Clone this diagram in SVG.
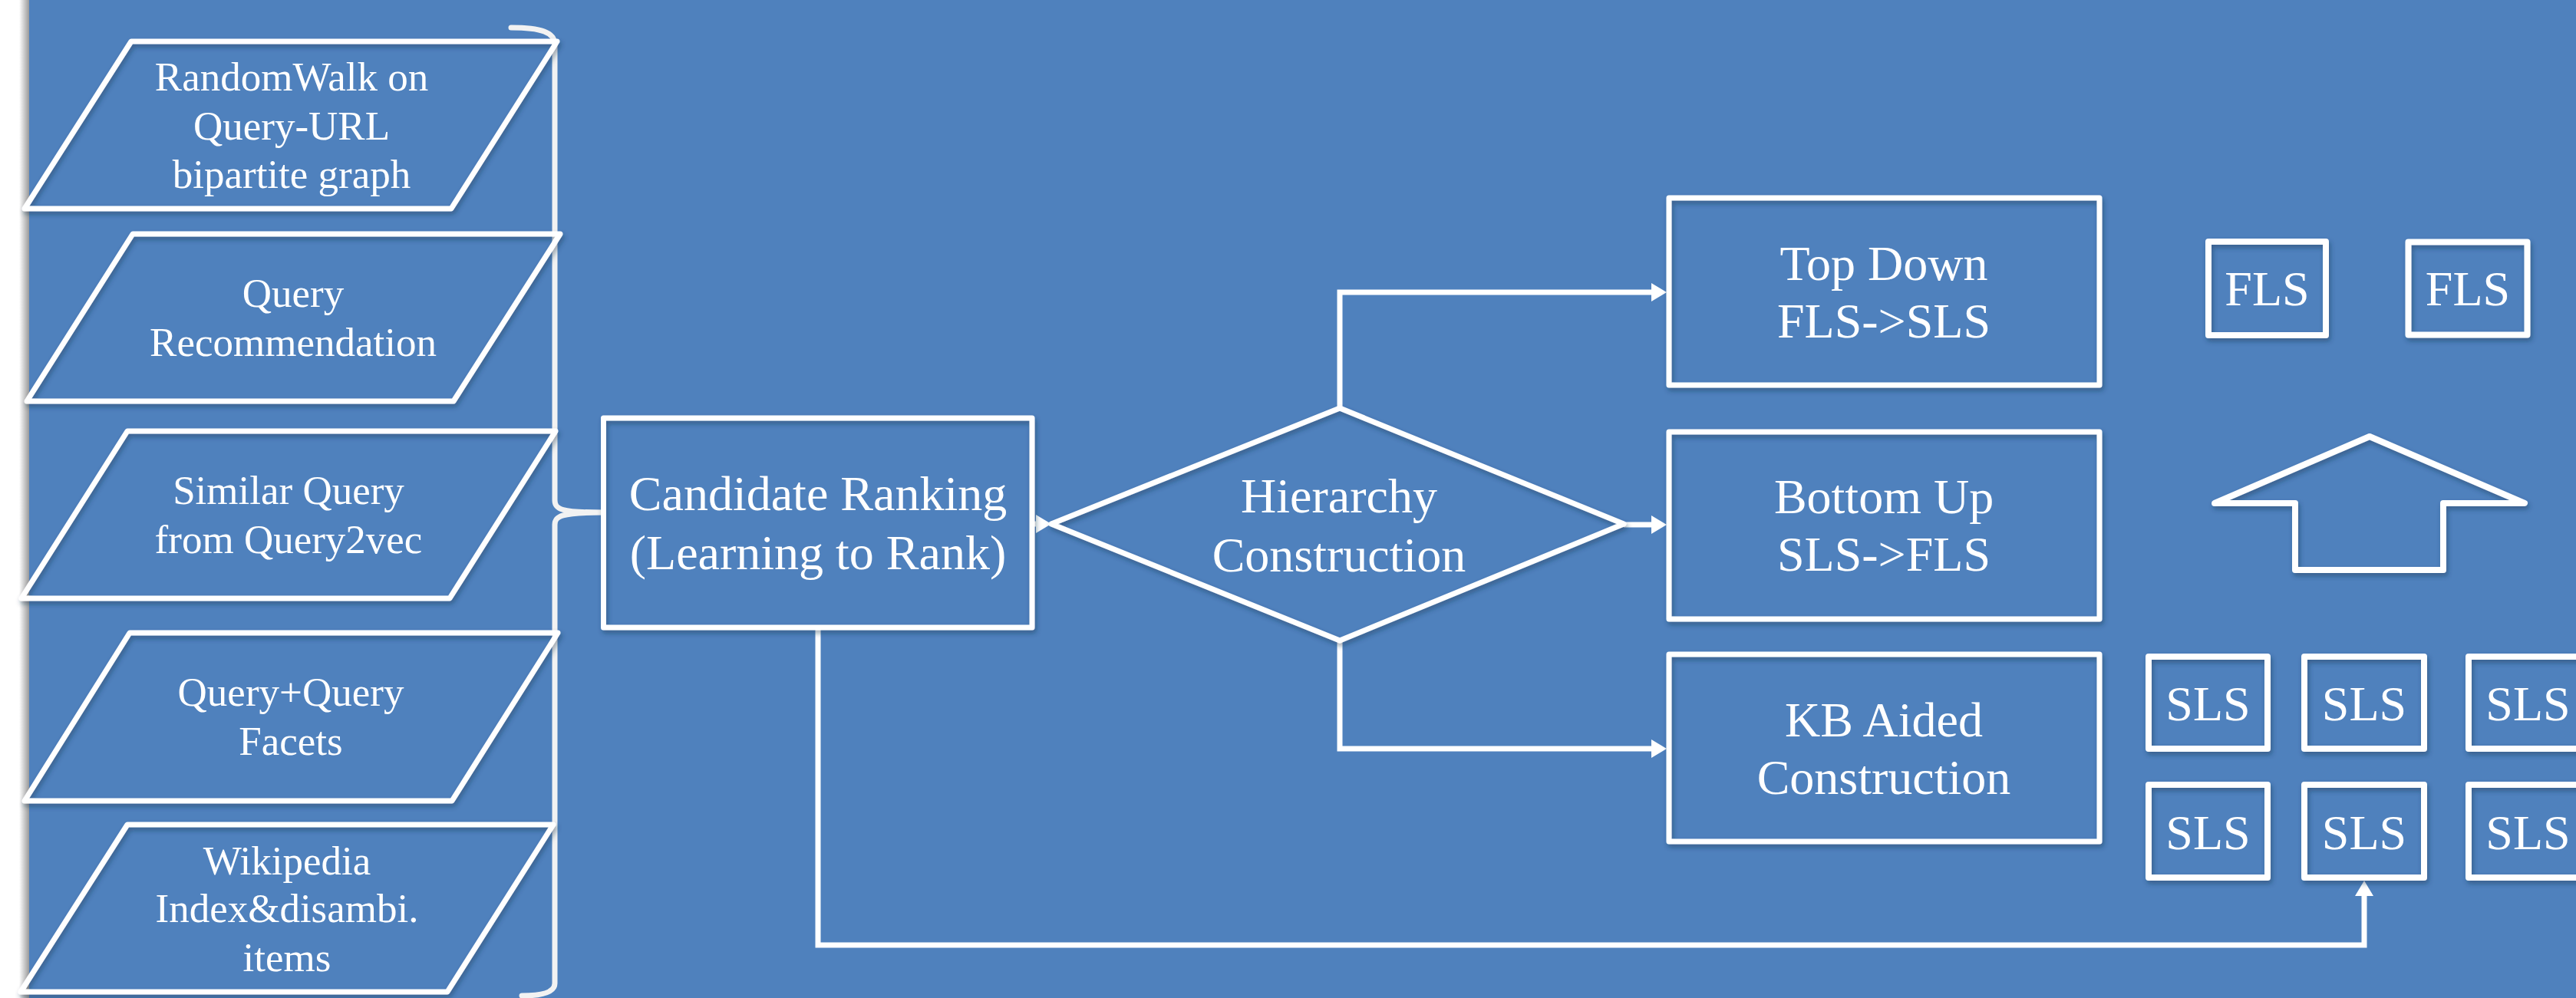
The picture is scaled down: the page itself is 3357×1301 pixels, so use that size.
<svg xmlns="http://www.w3.org/2000/svg" width="3357" height="1301" viewBox="0 0 3357 1301">
<style>
.bg{fill:#4F81BD}
.shape{fill:none;stroke:#ffffff;stroke-width:7;stroke-linejoin:round;filter:url(#sh)}
.small{fill:none;stroke:#ffffff;stroke-width:8;stroke-linejoin:round;filter:url(#sh)}
.t{font-family:"Liberation Serif","Times New Roman",serif;fill:#ffffff;text-anchor:middle}
.t53{font-size:53px}
.t64{font-size:64px}
.conn{fill:none;stroke:#ffffff;stroke-width:7;stroke-linejoin:miter}
.brace{fill:none;stroke:#f2f2f2;stroke-width:7;stroke-linecap:round}
</style>
<defs>
<filter id="sh" x="-10%" y="-10%" width="120%" height="130%">
<feDropShadow dx="2" dy="4" stdDeviation="3" flood-color="#1f3550" flood-opacity="0.45"/>
</filter>
<linearGradient id="edge" x1="0" y1="0" x2="1" y2="0">
<stop offset="0" stop-color="#ffffff"/>
<stop offset="1" stop-color="#9a9a9a"/>
</linearGradient>
<marker id="ah" markerUnits="userSpaceOnUse" markerWidth="20" markerHeight="24" refX="0" refY="12" orient="auto" viewBox="0 0 20 24">
<path d="M0,0 L20,12 L0,24 Z" fill="#ffffff"/>
</marker>
</defs>

<rect x="0" y="0" width="3357" height="1301" fill="#ffffff"/>
<rect x="25" y="0" width="13" height="1301" fill="url(#edge)"/>
<rect class="bg" x="38" y="0" width="3319" height="1301"/>

<g id="connectors">
<path class="brace" d="M666,36 C705,36 723,42 723,58 L723,652 C723,664 731,668 786,668 C731,668 723,673 723,684 L723,1282 C723,1294 705,1298 680,1298"/>
<path class="conn" d="M1746,532 L1746,381 L2152,381" marker-end="url(#ah)"/>
<path class="conn" d="M2116,684 L2152,684" marker-end="url(#ah)"/>
<path class="conn" d="M1746,835 L1746,976 L2152,976" marker-end="url(#ah)"/>
<path class="conn" d="M1345,683 L1350,683" marker-end="url(#ah)"/>
<path class="conn" d="M1066,818 L1066,1232 L3081,1232 L3081,1168" marker-end="url(#ah)"/>
</g>

<g id="src-randomwalk">
<polygon class="shape" points="171,54 726,54 588,272 32,272"/>
<text class="t t53" x="380" y="118">RandomWalk on</text>
<text class="t t53" x="380" y="182">Query-URL</text>
<text class="t t53" x="380" y="245">bipartite graph</text>
</g>
<g id="src-queryrec">
<polygon class="shape" points="173,305 730,305 591,523 35,523"/>
<text class="t t53" x="382" y="400">Query</text>
<text class="t t53" x="382" y="464">Recommendation</text>
</g>
<g id="src-query2vec">
<polygon class="shape" points="166,562 724,562 586,780 28,780"/>
<text class="t t53" x="376" y="657">Similar Query</text>
<text class="t t53" x="376" y="721">from Query2vec</text>
</g>
<g id="src-facets">
<polygon class="shape" points="169,825 727,825 589,1044 32,1044"/>
<text class="t t53" x="379" y="920">Query+Query</text>
<text class="t t53" x="379" y="984">Facets</text>
</g>
<g id="src-wikipedia">
<polygon class="shape" points="166,1075 721,1075 583,1293 27,1293"/>
<text class="t t53" x="374" y="1140">Wikipedia</text>
<text class="t t53" x="374" y="1202">Index&amp;disambi.</text>
<text class="t t53" x="374" y="1266">items</text>
</g>

<g id="candidate-ranking">
<rect class="shape" x="786.5" y="545" width="558.5" height="273"/>
<text class="t t64" x="1066" y="665">Candidate Ranking</text>
<text class="t t64" x="1066" y="742">(Learning to Rank)</text>
</g>

<g id="hierarchy">
<polygon class="shape" points="1746,532 2116,683 1746,835 1370,683"/>
<text class="t t64" x="1745" y="668">Hierarchy</text>
<text class="t t64" x="1745" y="745">Construction</text>
</g>

<g id="top-down">
<rect class="shape" x="2175" y="258" width="561" height="244"/>
<text class="t t64" x="2455" y="365">Top Down</text>
<text class="t t64" x="2455" y="440">FLS-&gt;SLS</text>
</g>
<g id="bottom-up">
<rect class="shape" x="2175" y="563" width="561" height="244"/>
<text class="t t64" x="2455" y="669">Bottom Up</text>
<text class="t t64" x="2455" y="744">SLS-&gt;FLS</text>
</g>
<g id="kb-aided">
<rect class="shape" x="2175" y="853" width="561" height="244"/>
<text class="t t64" x="2455" y="960">KB Aided</text>
<text class="t t64" x="2455" y="1035">Construction</text>
</g>

<g id="fls-1">
<rect class="small" x="2878" y="315" width="153" height="122"/>
<text class="t t64" x="2954.5" y="398">FLS</text>
</g>
<g id="fls-2">
<rect class="small" x="3138.5" y="315.5" width="155" height="121"/>
<text class="t t64" x="3216" y="398">FLS</text>
</g>

<g id="up-arrow">
<polygon class="small" points="3088,569 3290,656 3184,656 3184,743 2991,743 2991,656 2886,656"/>
</g>

<g id="sls-1">
<rect class="small" x="2800" y="856" width="155" height="120"/>
<text class="t t64" x="2877.5" y="939">SLS</text>
</g>
<g id="sls-2">
<rect class="small" x="3003" y="856" width="156" height="120"/>
<text class="t t64" x="3081" y="939">SLS</text>
</g>
<g id="sls-3">
<rect class="small" x="3217" y="856" width="155" height="120"/>
<text class="t t64" x="3294.5" y="939">SLS</text>
</g>
<g id="sls-4">
<rect class="small" x="2800" y="1023" width="155" height="121"/>
<text class="t t64" x="2877.5" y="1107">SLS</text>
</g>
<g id="sls-5">
<rect class="small" x="3003" y="1023" width="156" height="121"/>
<text class="t t64" x="3081" y="1107">SLS</text>
</g>
<g id="sls-6">
<rect class="small" x="3217" y="1023" width="155" height="121"/>
<text class="t t64" x="3294.5" y="1107">SLS</text>
</g>
</svg>
